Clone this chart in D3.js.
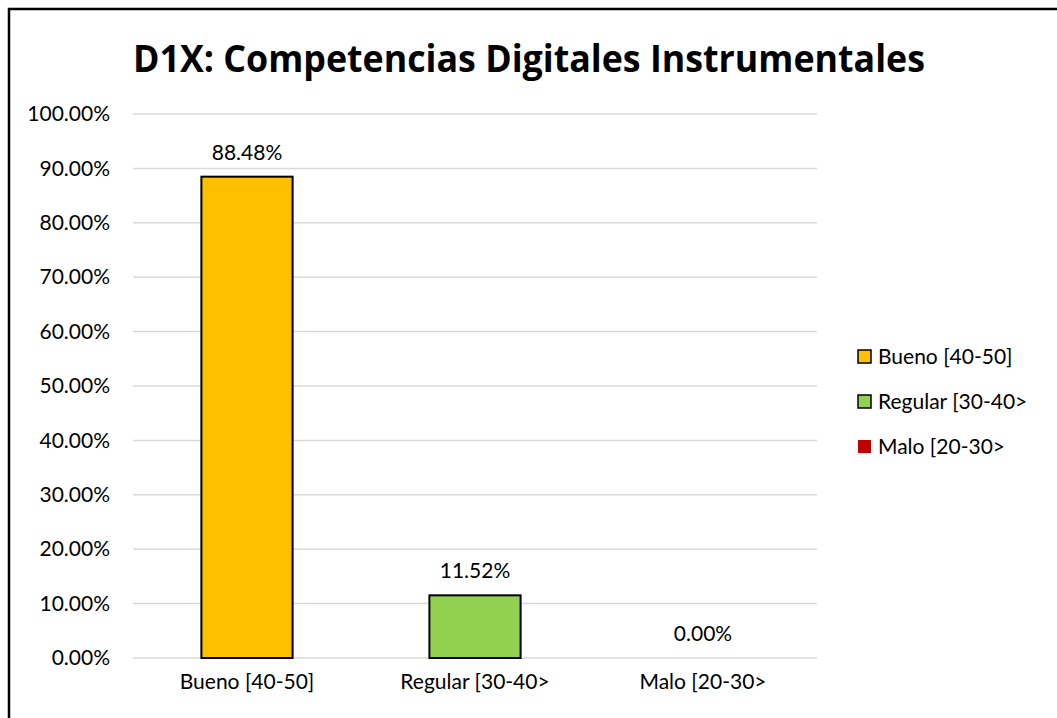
<!DOCTYPE html>
<meta charset="utf-8">
<style>
  body { margin: 0; background: #fff; }
  text { font-family: Lato, "Open Sans", sans-serif; fill: #000; }
</style>
<body>
<script src="https://cdnjs.cloudflare.com/ajax/libs/d3/7.8.5/d3.min.js"></script>
<script>

var categories = ["Bueno [40-50]", "Regular [30-40>", "Malo [20-30>"];
var values = [0.8848, 0.1152, 0.0];
var barColors = ["#ffc000", "#92d050", "#c00000"];
var yTicks = [0, 0.1, 0.2, 0.3, 0.4, 0.5, 0.6, 0.7, 0.8, 0.9, 1.0];
var title = "D1X: Competencias Digitales Instrumentales";

var width = 1057, height = 718;
var plotLeft = 133, plotRight = 817, plotTop = 114, plotBottom = 658;
var fontSize = "21px";

var svg = d3.select("body").append("svg")
    .attr("width", width)
    .attr("height", height);

// chart frame (runs off the right and bottom of the picture)
svg.append("rect")
    .attr("x", 9).attr("y", 9)
    .attr("width", 1100).attr("height", 800)
    .attr("fill", "#fff")
    .attr("stroke", "#000")
    .attr("stroke-width", 2.5);

var x = d3.scaleBand()
    .domain(categories)
    .range([plotLeft, plotRight])
    .paddingInner(0.6)
    .paddingOuter(0.3);

var y = d3.scaleLinear()
    .domain([0, 1])
    .range([plotBottom, plotTop]);

// gridlines
svg.append("g")
  .selectAll("line")
  .data(yTicks)
  .enter().append("line")
    .attr("x1", plotLeft).attr("x2", plotRight)
    .attr("y1", function(d){ return y(d); })
    .attr("y2", function(d){ return y(d); })
    .attr("stroke", "#d9d9d9")
    .attr("stroke-width", 1.5);

// y axis labels
var yAxis = d3.axisLeft(y)
    .tickValues(yTicks)
    .tickSize(0)
    .tickPadding(0)
    .tickFormat(function(d){ return (d * 100).toFixed(2) + "%"; });

var ya = svg.append("g")
    .attr("transform", "translate(110,0)")
    .call(yAxis);
ya.select(".domain").remove();
ya.selectAll("text")
    .style("font-family", "Lato, 'Open Sans', sans-serif")
    .style("font-size", fontSize)
    .attr("fill", "#000");

// x axis labels
var xAxis = d3.axisBottom(x).tickSize(0).tickPadding(0);
var xa = svg.append("g")
    .attr("transform", "translate(0," + (plotBottom + 16) + ")")
    .call(xAxis);
xa.select(".domain").remove();
xa.selectAll("text")
    .style("font-family", "Lato, 'Open Sans', sans-serif")
    .style("font-size", fontSize)
    .attr("fill", "#000");

// bars
svg.append("g")
  .selectAll("rect")
  .data(values)
  .enter().append("rect")
    .attr("x", function(d, i){ return x(categories[i]); })
    .attr("y", function(d){ return y(d); })
    .attr("width", x.bandwidth())
    .attr("height", function(d){ return plotBottom - y(d); })
    .attr("fill", function(d, i){ return barColors[i]; })
    .attr("stroke", function(d){ return d > 0 ? "#000" : "none"; })
    .attr("stroke-width", 2);

// value labels
svg.append("g")
  .selectAll("text")
  .data(values)
  .enter().append("text")
    .attr("x", function(d, i){ return x(categories[i]) + x.bandwidth() / 2; })
    .attr("y", function(d){ return y(d) - 17; })
    .attr("text-anchor", "middle")
    .style("font-size", fontSize)
    .text(function(d){ return (d * 100).toFixed(2) + "%"; });

// title
svg.append("text")
    .attr("x", 529)
    .attr("y", 72)
    .attr("text-anchor", "middle")
    .attr("textLength", 792)
    .attr("lengthAdjust", "spacingAndGlyphs")
    .style("font-size", "38px")
    .style("font-weight", "bold")
    .style("font-family", "'Open Sans', Lato, sans-serif")
    .text(title);

// legend
var legend = svg.append("g")
  .selectAll("g")
  .data(categories)
  .enter().append("g")
    .attr("transform", function(d, i){ return "translate(858," + (357 + i * 45) + ")"; });

legend.append("rect")
    .attr("x", 0).attr("y", -7)
    .attr("width", 13).attr("height", 13)
    .attr("fill", function(d, i){ return barColors[i]; })
    .attr("stroke", function(d, i){ return values[i] > 0 ? "#000" : "none"; })
    .attr("stroke-width", 1.5);

legend.append("text")
    .attr("x", 20)
    .attr("y", 7)
    .style("font-size", fontSize)
    .text(function(d){ return d; });

</script>
</body>
